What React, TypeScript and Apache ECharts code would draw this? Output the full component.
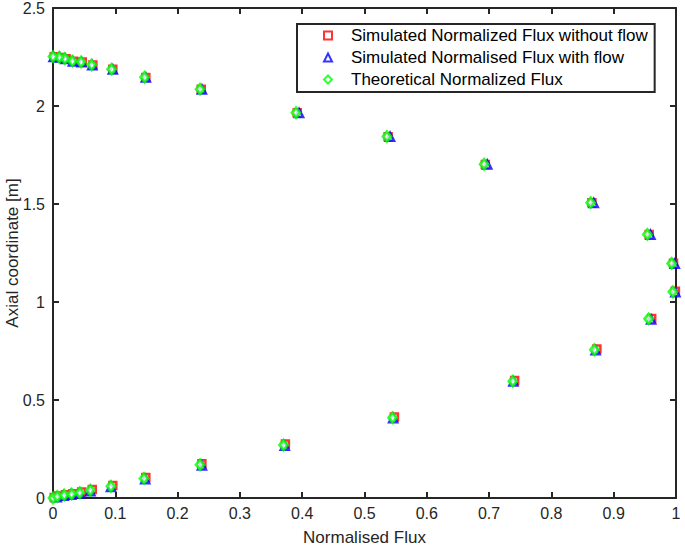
import React, { useEffect, useRef } from "react";
import * as echarts from "echarts";

const theoX = [0, 0.007, 0.018, 0.03, 0.043, 0.06, 0.093, 0.146, 0.236, 0.37, 0.545, 0.738, 0.869, 0.956, 0.995, 0.993, 0.954, 0.863, 0.692, 0.536, 0.39, 0.236, 0.147, 0.094, 0.062, 0.045, 0.031, 0.019, 0.01, 0];
const theoY = [0, 0.008, 0.015, 0.02, 0.027, 0.04, 0.06, 0.1, 0.17, 0.27, 0.41, 0.596, 0.756, 0.914, 1.052, 1.197, 1.345, 1.507, 1.703, 1.844, 1.966, 2.086, 2.147, 2.188, 2.21, 2.225, 2.229, 2.242, 2.249, 2.252];

const noFlowX = [0.002, 0.009, 0.02, 0.032, 0.046, 0.063, 0.096, 0.149, 0.239, 0.373, 0.548, 0.741, 0.873, 0.961, 0.999, 0.996, 0.957, 0.865, 0.694, 0.538, 0.392, 0.238, 0.149, 0.096, 0.064, 0.047, 0.033, 0.021, 0.012, 0.002];
const noFlowY = [0.003, 0.01, 0.017, 0.022, 0.03, 0.043, 0.064, 0.104, 0.175, 0.275, 0.413, 0.6, 0.76, 0.916, 1.055, 1.198, 1.345, 1.507, 1.702, 1.843, 1.965, 2.085, 2.146, 2.187, 2.209, 2.224, 2.228, 2.241, 2.248, 2.251];

const flowX = [-0.001, 0.006, 0.017, 0.029, 0.043, 0.06, 0.093, 0.148, 0.239, 0.372, 0.546, 0.739, 0.871, 0.96, 0.999, 0.998, 0.959, 0.868, 0.697, 0.541, 0.395, 0.239, 0.149, 0.096, 0.063, 0.046, 0.032, 0.02, 0.011, 0.001];
const flowY = [-0.002, 0.004, 0.012, 0.017, 0.023, 0.035, 0.056, 0.096, 0.166, 0.266, 0.407, 0.594, 0.754, 0.911, 1.05, 1.195, 1.343, 1.505, 1.701, 1.843, 1.964, 2.084, 2.145, 2.186, 2.208, 2.223, 2.227, 2.24, 2.247, 2.25];

const xTicks = [0, 0.1, 0.2, 0.3, 0.4, 0.5, 0.6, 0.7, 0.8, 0.9, 1];
const yTicks = [0, 0.5, 1, 1.5, 2, 2.5];

const seriesNames = [
  "Simulated Normalized Flux without flow",
  "Simulated Normalised Flux with flow",
  "Theoretical Normalized Flux",
];

const zip = (xs: number[], ys: number[]) => xs.map((x, i) => [x, ys[i]]);

const AXIS = "#262626";
const FONT = "Liberation Sans, Arial, sans-serif";

export default function App() {
  const ref = useRef<HTMLDivElement>(null);
  useEffect(() => {
    const chart = echarts.init(ref.current!, null, { renderer: "svg" });
    const axisCommon = {
      type: "value",
      axisLine: { show: true, onZero: false, lineStyle: { color: AXIS, width: 2 } },
      axisTick: { show: true, inside: true, length: 6, lineStyle: { color: AXIS, width: 2 } },
      splitLine: { show: false },
    };
    chart.setOption({
      animation: false,
      backgroundColor: "#fff",
      grid: { left: 53, right: 9, top: 8, bottom: 48, outerBoundsMode: "none", containLabel: false },
      xAxis: [
        {
          ...axisCommon,
          min: 0,
          max: 1,
          interval: 0.1,
          name: "Normalised Flux",
          nameLocation: "middle",
          nameGap: 31,
          nameTextStyle: { color: AXIS, fontSize: 17, fontFamily: FONT },
          axisLabel: {
            color: AXIS,
            fontSize: 16,
            fontFamily: FONT,
            margin: 7,
            formatter: (v: number) => {
              const r = Math.round(v * 10) / 10;
              return xTicks.includes(r) ? String(r) : "";
            },
          },
        },
        {
          ...axisCommon,
          position: "top",
          min: 0,
          max: 1,
          interval: 0.1,
          axisLabel: { show: false },
        },
      ],
      yAxis: [
        {
          ...axisCommon,
          min: 0,
          max: 2.5,
          interval: 0.5,
          name: "Axial coordinate [m]",
          nameLocation: "middle",
          nameGap: 32,
          nameMoveOverlap: false,
          nameTextStyle: { color: AXIS, fontSize: 17, fontFamily: FONT },
          axisLabel: {
            color: AXIS,
            fontSize: 16,
            fontFamily: FONT,
            margin: 8,
            formatter: (v: number) => (yTicks.includes(v) ? String(v) : ""),
          },
        },
        {
          ...axisCommon,
          position: "right",
          min: 0,
          max: 2.5,
          interval: 0.5,
          axisLabel: { show: false },
        },
      ],
      legend: {
        orient: "vertical",
        left: 297,
        top: 24,
        padding: [3, 7, 4, 26],
        itemGap: 5,
        itemWidth: 8,
        itemHeight: 8,
        borderColor: "#262626",
        borderWidth: 2,
        backgroundColor: "#fff",
        textStyle: { color: "#000", fontSize: 17, fontFamily: FONT, padding: [0, 0, 0, 14] },
        data: seriesNames,
      },
      series: [
        {
          name: seriesNames[0],
          type: "scatter",
          symbol: "rect",
          symbolSize: 7,
          itemStyle: { color: "#fff", borderColor: "#ff0000", borderWidth: 2.5 },
          data: zip(noFlowX, noFlowY),
        },
        {
          name: seriesNames[1],
          type: "scatter",
          symbol: "triangle",
          symbolSize: 8,
          itemStyle: { color: "#fff", borderColor: "#0000ff", borderWidth: 2.5 },
          data: zip(flowX, flowY),
        },
        {
          name: seriesNames[2],
          type: "scatter",
          symbol: "diamond",
          symbolSize: [8, 10],
          itemStyle: { color: "#fff", borderColor: "#00ff00", borderWidth: 2.8 },
          data: zip(theoX, theoY),
        },
      ],
    });
    return () => chart.dispose();
  }, []);
  return <div ref={ref} style={{ width: 685, height: 546, position: "absolute", left: 0, top: 0 }} />;
}
